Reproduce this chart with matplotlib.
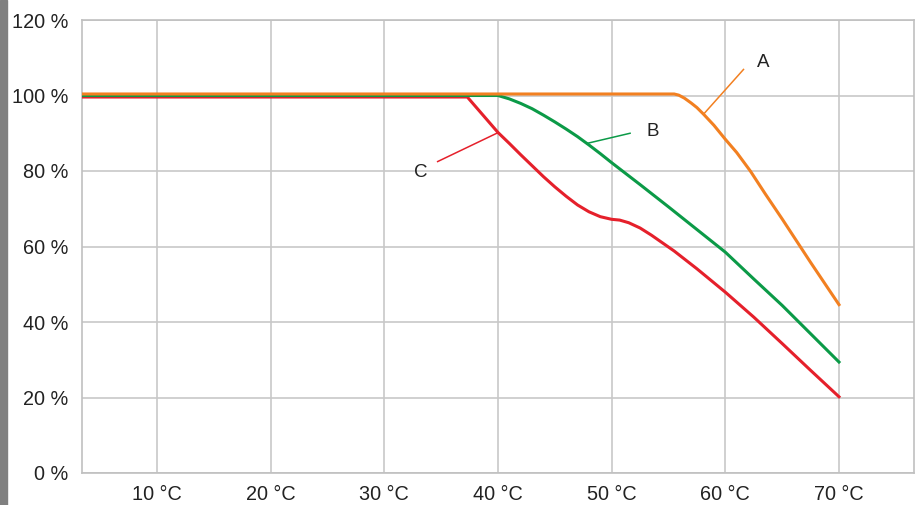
import matplotlib
matplotlib.use("Agg")
import matplotlib.pyplot as plt
from matplotlib.patches import Rectangle

plt.rcParams['font.family'] = ['Liberation Sans', 'DejaVu Sans']

# curve A (orange)
temp_a = [3.4, 55.5, 55.9, 56.4, 57.0, 57.5, 58.1, 59.0, 60.0, 61.0, 62.2, 63.5, 65.0, 67.5, 70.0]
load_a = [100.4, 100.4, 100.1, 99.3, 98.0, 96.8, 95.0, 92.1, 88.4, 84.9, 80.0, 74.0, 67.3, 55.8, 44.6]

# curve B (green)
temp_b = [3.4, 40.0, 41.0, 42.0, 43.0, 44.0, 45.0, 46.0, 47.0, 48.0, 49.0, 50.0, 52.5, 55.0,
          57.5, 60.0, 62.5, 65.0, 67.5, 70.0]
load_b = [100.0, 100.0, 99.1, 97.9, 96.5, 94.8, 93.0, 91.1, 89.1, 86.9, 84.6, 82.2, 76.4, 70.5,
          64.5, 58.5, 51.4, 44.4, 36.9, 29.4]

# curve C (red)
temp_c = [3.4, 37.3, 40.0, 41.0, 42.0, 43.0, 44.0, 45.0, 46.0, 47.0, 48.0, 49.0, 50.0, 50.7,
          51.5, 52.5, 53.5, 54.5, 55.5, 57.5, 60.0, 62.5, 65.0, 67.5, 70.0]
load_c = [99.6, 99.6, 90.2, 87.3, 84.3, 81.4, 78.5, 75.8, 73.3, 71.0, 69.2, 67.9, 67.2, 67.0,
          66.3, 64.9, 63.0, 60.9, 58.8, 54.1, 47.9, 41.3, 34.3, 27.2, 20.2]

x_ticks = [10, 20, 30, 40, 50, 60, 70]
y_ticks = [0, 20, 40, 60, 80, 100, 120]

# label text, text position, leader start, leader end
labels = ["A", "B", "C"]
label_pos = [(63.3, 108.8), (53.65, 90.4), (33.2, 79.5)]
leader_from = [(61.6, 106.9), (51.62, 90.0), (34.69, 82.5)]
leader_to = [(58.07, 95.0), (47.81, 87.3), (40.03, 90.2)]

c_orange = '#f28021'
c_green = '#0b9a47'
c_red = '#e5202b'
colors = [c_orange, c_green, c_red]

fig = plt.figure(figsize=(9.22, 5.05), dpi=100)
fig.patches.append(Rectangle((0, 0), 7 / 922, 1, transform=fig.transFigure,
                             color='#808080', zorder=0))
ax = fig.add_axes([82 / 922, 32 / 505, 832 / 922, 453 / 505])

ax.plot(temp_c, load_c, color=c_red, lw=2.2, zorder=3, solid_joinstyle='round')
ax.plot(temp_b, load_b, color=c_green, lw=2.2, zorder=4, solid_joinstyle='round')
ax.plot(temp_a, load_a, color=c_orange, lw=2.2, zorder=5, solid_joinstyle='round')

for lab, pos, p0, p1, col in zip(labels, label_pos, leader_from, leader_to, colors):
    ax.plot([p0[0], p1[0]], [p0[1], p1[1]], color=col, lw=1.1, zorder=6)
    ax.text(pos[0], pos[1], lab, ha='center', va='center', fontsize=13.5, color='#222222')

ax.set_xlim(3.4, 76.6)
ax.set_ylim(0, 120)
ax.set_xticks(x_ticks)
ax.set_xticklabels([f"{t} °C" for t in x_ticks])
ax.set_yticks(y_ticks)
ax.set_yticklabels([f"{v} %" for v in y_ticks])
ax.tick_params(length=0, labelsize=14.3, labelcolor='#222222')
ax.tick_params(axis='y', pad=10)
ax.tick_params(axis='x', pad=9)
ax.grid(True, color='#c8c8c8', lw=1.2)
ax.set_axisbelow(True)
for spine in ax.spines.values():
    spine.set_color('#c0c0c0')
    spine.set_linewidth(1.2)

fig.savefig('out.png', dpi=100)
